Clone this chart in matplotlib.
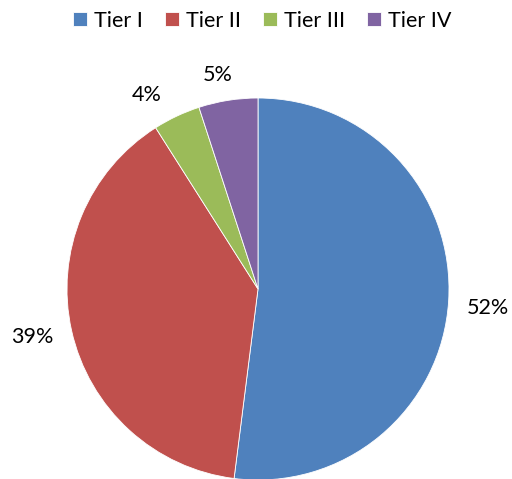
import matplotlib
matplotlib.use("Agg")
import matplotlib.pyplot as plt

categories = ["Tier I", "Tier II", "Tier III", "Tier IV"]
values = [52, 39, 4, 5]
colors = ["#4F81BD", "#C0504D", "#9BBB59", "#8064A2"]
# label placement (in radius units, relative to pie centre)
label_pos = [(1.202, -0.099), (-1.181, -0.249), (-0.584, 1.018), (-0.212, 1.120)]

plt.rcParams['font.family'] = ['Lato', 'DejaVu Sans']

W, H = 512, 479
fig = plt.figure(figsize=(W / 100, H / 100), dpi=100)
cx, cy, r = 258, 289, 191
ax = fig.add_axes([(cx - r) / W, (H - cy - r) / H, 2 * r / W, 2 * r / H])

wedges, texts, autotexts = ax.pie(
    values, colors=colors, startangle=90, counterclock=False,
    autopct=lambda p: f"{p:.0f}%", pctdistance=1.18,
    wedgeprops=dict(edgecolor="#FFFFFF", linewidth=0.6),
    textprops=dict(fontsize=15.5, color="#000000"))
for t, pos in zip(autotexts, label_pos):
    t.set_position(pos)
    t.set_clip_on(False)
ax.set_xlim(-1, 1)
ax.set_ylim(-1, 1)
ax.set_aspect('equal')

fig.legend(wedges, categories, loc='upper center', bbox_to_anchor=(0.512, 1.018),
           ncol=4, frameon=False, fontsize=15.5, handlelength=0.65, handleheight=0.65,
           handletextpad=0.3, columnspacing=1.05)

fig.savefig("out.png", dpi=100)
